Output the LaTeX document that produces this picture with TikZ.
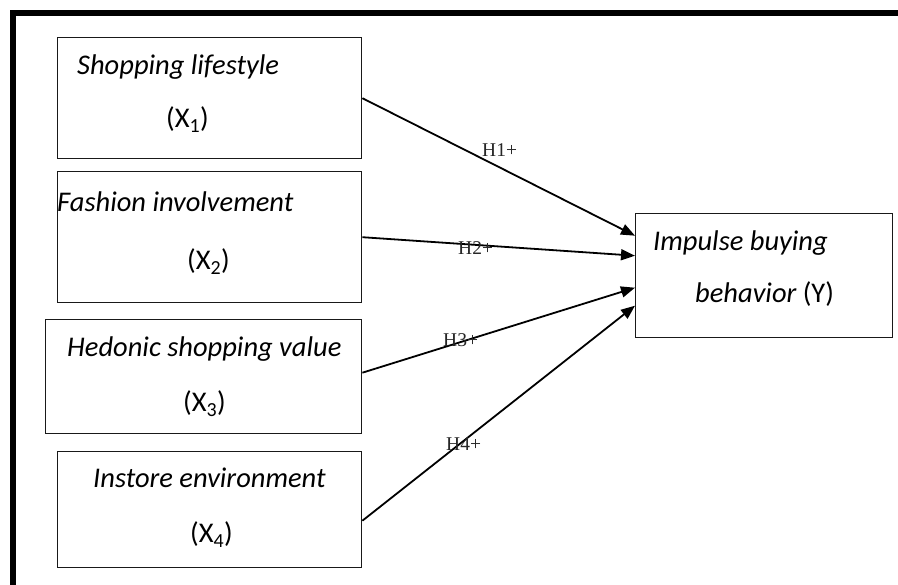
\documentclass[tikz,border=0pt]{standalone}
\usepackage{fontspec}
\setmainfont{Liberation Serif}
\newfontfamily\calib{Carlito}
\usetikzlibrary{arrows.meta,positioning,calc}

\begin{document}
\begin{tikzpicture}[x=1pt, y=-1pt,
    varbox/.style={draw=black!90, line width=1.4pt, inner sep=0pt, anchor=north west},
    vartext/.style={font=\calib\fontsize{28.5}{32}\selectfont, anchor=base west, inner sep=0pt},
    hyplabel/.style={font=\fontsize{19.5}{22}\selectfont, anchor=base west, inner sep=0pt, text=black!85},
    effect/.style={line width=1.8pt, -{Triangle[length=14pt, width=11pt]}}]
    \useasboundingbox (0, 0) rectangle (898, 585);

    % Frame: heavy rule on top and left only
    \draw[line width=5.5pt, line join=miter] (13, 585) -- (13, 13) -- (898, 13);

    % Independent variables
    \node[varbox, minimum width=304pt, minimum height=121pt] (X1) at (57, 37) {};
    \node[varbox, minimum width=304pt, minimum height=131pt] (X2) at (57, 171) {};
    \node[varbox, minimum width=316pt, minimum height=114pt] (X3) at (45, 319) {};
    \node[varbox, minimum width=304pt, minimum height=116pt] (X4) at (57, 451) {};

    \node[vartext] (x1name) at (77, 75)  {\itshape Shopping lifestyle};
    \node[vartext] (x1sym)  at (166, 128) {(X\textsubscript{1})};
    \node[vartext] (x2name) at (57, 212) {\itshape Fashion involvement};
    \node[vartext] (x2sym)  at (187, 270) {(X\textsubscript{2})};
    \node[vartext] (x3name) at (67, 357) {\itshape Hedonic shopping value};
    \node[vartext] (x3sym)  at (183, 412) {(X\textsubscript{3})};
    \node[vartext] (x4name) at (93, 488) {\itshape Instore environment};
    \node[vartext] (x4sym)  at (190, 543) {(X\textsubscript{4})};

    % Dependent variable
    \node[varbox, minimum width=257pt, minimum height=124pt] (Y) at (635, 213) {};
    \node[vartext] (yname1) at (653, 251) {\itshape Impulse buying};
    \node[vartext] (yname2) at (695, 303) {\itshape behavior \upshape(Y)};

    % Hypothesised effects
    \draw[effect] (X1.east) -- ([yshift=40pt]Y.west);
    \draw[effect] (X2.east) -- ([yshift=20pt]Y.west);
    \draw[effect] ([yshift=4pt]X3.east) -- ([yshift=-12pt]Y.west);
    \draw[effect] ([yshift=-11pt]X4.east) -- ([yshift=-30pt]Y.west);

    \node[hyplabel] (h1) at (482, 157) {H1+};
    \node[hyplabel] (h2) at (458, 255) {H2+};
    \node[hyplabel] (h3) at (443, 347) {H3+};
    \node[hyplabel] (h4) at (446, 451) {H4+};
\end{tikzpicture}
\end{document}
